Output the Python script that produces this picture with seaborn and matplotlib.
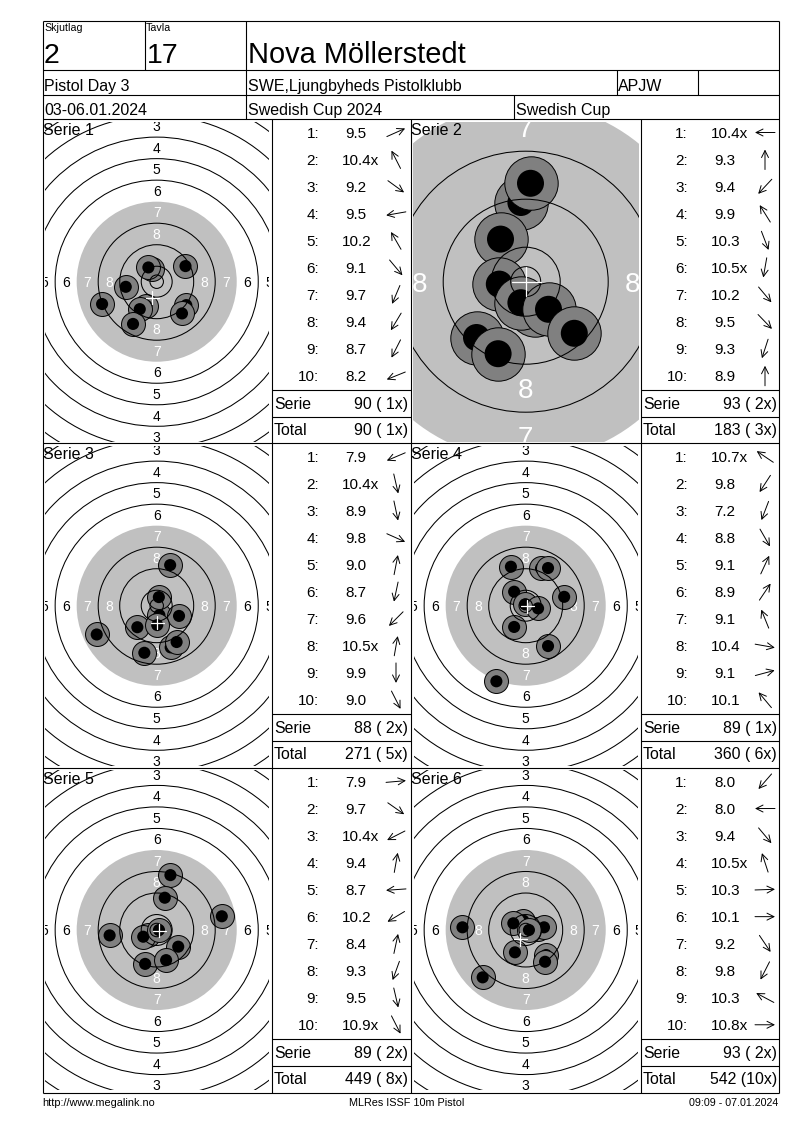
import math
import matplotlib
matplotlib.use('Agg')
from matplotlib import pyplot as plt
from matplotlib.patches import Circle
import seaborn as sns

# shot positions in mm from target centre, listed in drawing order
s1_x = [-1.7, -3.1, 10.7, -11.5, -20.3, -3.8, -6.3, -8.8, 11.0, 9.4]
s1_y = [4.6, 5.3, 5.8, -1.9, -8.3, -9.0, -10.2, -15.7, -8.7, -11.8]
s2_x = [-0.8, 0.8, -4.2, -4.4, 1.6, -0.8, 3.8, -8.2, -4.6, 8.1]
s2_y = [13.2, 16.4, 7.1, -0.4, -4.7, -3.5, -4.6, -9.3, -12.0, -8.6]
s3_x = [1.0, 0.8, 8.3, -7.2, 0.2, 5.2, 7.4, -4.6, -22.3, 5.0]
s3_y = [-3.5, 3.2, -3.8, -8.0, -7.2, -15.5, -13.5, -17.5, -10.7, 15.1]
s4_x = [-5.5, 5.7, 8.3, -4.3, 14.3, -0.2, 4.6, -4.3, 8.3, -10.9]
s4_y = [14.5, 13.9, 14.0, 5.2, 3.3, 0.5, -1.0, -7.9, -15.0, -28.1]
s5_x = [5.1, 3.0, 24.2, -17.5, -3.4, -5.0, 0.85, 8.0, -4.3, 3.5]
s5_y = [20.4, 12.0, 5.1, -2.0, -1.8, -2.5, 0.0, -6.2, -12.6, -11.2]
s6_x = [4.6, -0.9, -4.6, 6.8, 1.2, -4.0, 7.6, 7.2, -23.5, -16.0]
s6_y = [0.4, 3.5, 2.5, 1.0, 0.0, -8.3, -9.3, -11.8, 1.0, -17.6]

# white cross, mm from centre
cross_x = [-1.7, 0.1, 0.2, 0.6, 1.0, -2.1]
cross_y = [-6.0, 0.0, -6.3, -0.2, -0.2, -3.5]

# shot scores
v1 = ['9.5', '10.4x', '9.2', '9.5', '10.2', '9.1', '9.7', '9.4', '8.7', '8.2']
v2 = ['10.4x', '9.3', '9.4', '9.9', '10.3', '10.5x', '10.2', '9.5', '9.3', '8.9']
v3 = ['7.9', '10.4x', '8.9', '9.8', '9.0', '8.7', '9.6', '10.5x', '9.9', '9.0']
v4 = ['10.7x', '9.8', '7.2', '8.8', '9.1', '8.9', '9.1', '10.4', '9.1', '10.1']
v5 = ['7.9', '9.7', '10.4x', '9.4', '8.7', '10.2', '8.4', '9.3', '9.5', '10.9x']
v6 = ['8.0', '8.0', '9.4', '10.5x', '10.3', '10.1', '9.2', '9.8', '10.3', '10.8x']

# direction arrows, degrees counter clockwise from east
d1 = [24, 117, -36, 190, 120, -50, 247, 239, 243, 202]
d2 = [180, 90, 227, 122, -69, -100, -50, -46, -108, 90]
d3 = [203, -77, -78, -24, 79, -102, 225, 80, -90, -63]
d4 = [146, 237, 249, -60, 65, 56, 112, -10, 15, 130]
d5 = [5, -35, 207, 80, 184, 211, 78, 250, -77, -63]
d6 = [229, 180, -50, 108, 2, 0, -56, 243, 152, 0]

serie_sum = ['90 ( 1x)', '93 ( 2x)', '88 ( 2x)', '89 ( 1x)', '89 ( 2x)', '93 ( 2x)']
total_sum = ['90 ( 1x)', '183 ( 3x)', '271 ( 5x)', '360 ( 6x)', '449 ( 8x)', '542 (10x)']

ring_radius = [2.5, 5.75, 13.75, 21.75, 37.75, 45.75, 53.75, 61.75, 69.75, 77.75]
ring_label = [8, 7, 6, 5, 4, 3]
ring_label_r = [17.75, 25.75, 33.75, 41.75, 49.75, 57.75]
black_radius = 29.75

GREY = '#C0C0C0'
SHOT = '#808080'

sns.set_theme(style='white')
plt.rcParams['font.family'] = ['Liberation Sans', 'DejaVu Sans']

W, H = 800, 1130
fig = plt.figure(figsize=(W / 100, H / 100), dpi=100, facecolor='white')

# sheet layer, pixel coordinates, drawn above the targets
sheet = fig.add_axes([0, 0, 1, 1], zorder=5)
sheet.set_xlim(0, W)
sheet.set_ylim(H, 0)
sheet.axis('off')
sheet.patch.set_alpha(0)


def text(x, y, s, size, ha='left', **kw):
    # y is the middle of the digits, so go down to the baseline
    sheet.text(x, y + 0.36 * size * 100 / 72, s, fontsize=size, ha=ha, va='baseline',
               color='black', **kw)


def hline(y, x0, x1):
    sheet.plot([x0, x1], [y, y], color='black', lw=0.8, solid_capstyle='butt')


def vline(x, y0, y1):
    sheet.plot([x, x], [y0, y1], color='black', lw=0.8, solid_capstyle='butt')


def target(cx, cy, scale, xs, ys, cross, label_size):
    hw = 113 if scale > 3 else 112
    hh = 160
    ax = fig.add_axes([(cx - hw) / W, 1 - (cy + hh) / H, 2 * hw / W, 2 * hh / H], zorder=1)
    ax.add_patch(Circle((0, 0), black_radius, fc=GREY, ec='none', zorder=1))
    px = label_size * 100 / 72
    off = 0.36 * px / scale
    for val, r in zip(ring_label, ring_label_r):
        col = 'white' if val >= 7 else 'black'
        spots = []
        # numbers outside the clip window would not show anyway
        if r * scale < hh + 5:
            spots += [(0, r), (0, -r)]
        if r * scale < hw + 5:
            spots += [(-r, 0), (r, 0)]
        for tx, ty in spots:
            ax.text(tx, ty - off, str(val), fontsize=label_size, color=col, ha='center',
                    va='baseline', clip_on=True, zorder=2)
    for i, (x, y) in enumerate(zip(xs, ys)):
        size_grey = (2 * 4.45 * scale * 0.72) ** 2
        size_black = (2 * 2.25 * scale * 0.72) ** 2
        sns.scatterplot(x=[x], y=[y], s=size_grey, color=SHOT, edgecolor='black', linewidth=0.7,
                        ax=ax, zorder=3 + i * 0.01, legend=False)
        sns.scatterplot(x=[x], y=[y], s=size_black, color='black', edgecolor='none',
                        ax=ax, zorder=3.005 + i * 0.01, legend=False)
    for r in ring_radius:
        ax.add_patch(Circle((0, 0), r, fc='none', ec='black', lw=0.75, zorder=5))
    ax.plot([cross[0] - 2.4, cross[0] + 2.4], [cross[1], cross[1]], color='white', lw=0.9, zorder=6)
    ax.plot([cross[0], cross[0]], [cross[1] - 2.4, cross[1] + 2.4], color='white', lw=0.9, zorder=6)
    ax.set_xlim(-hw / scale, hw / scale)
    ax.set_ylim(-hh / scale, hh / scale)
    ax.axis('off')


def shot_table(col, first_y, scores, dirs, serie, total):
    for k, (v, d) in enumerate(zip(scores, dirs)):
        y = first_y + 27.03 * k
        text(col + 47, y, f'{k + 1}:', 11, ha='right')
        text(col + (70 if v.startswith('10') else 73.5), y, v, 11)
        a = math.radians(d)
        dx, dy = 10 * math.cos(a), -10 * math.sin(a)
        sheet.annotate('', xy=(col + 124 + dx, y + dy), xytext=(col + 124 - dx, y - dy),
                       arrowprops=dict(arrowstyle='->,head_length=0.5,head_width=0.25',
                                       lw=0.7, color='black', shrinkA=0, shrinkB=0, mutation_scale=10))
    y0 = first_y + 270.5
    text(col + 2, y0, 'Serie', 11.4)
    text(col + 136, y0, serie, 11.4, ha='right')
    text(col + 2, y0 + 26.5, 'Total', 11.4)
    text(col + 136, y0 + 26.5, total, 11.4, ha='right')
    hline(first_y + 257.5, col, col + 139 if col < 400 else col + 138)
    hline(first_y + 284.5, col, col + 139 if col < 400 else col + 138)


# targets
centres_y = [281.7, 605.7, 930]
target(156.7, centres_y[0], 2.69, s1_x, s1_y, (cross_x[0], cross_y[0]), 10)
target(525.7, centres_y[0], 6.0, s2_x, s2_y, (cross_x[1], cross_y[1]), 20)
target(156.7, centres_y[1], 2.69, s3_x, s3_y, (cross_x[2], cross_y[2]), 10)
target(525.7, centres_y[1], 2.69, s4_x, s4_y, (cross_x[3], cross_y[3]), 10)
target(156.7, centres_y[2], 2.69, s5_x, s5_y, (cross_x[4], cross_y[4]), 10)
target(525.7, centres_y[2], 2.69, s6_x, s6_y, (cross_x[5], cross_y[5]), 10)

# score columns
first_rows = [132.5, 456.7, 781.5]
shot_table(272, first_rows[0], v1, d1, serie_sum[0], total_sum[0])
shot_table(641, first_rows[0], v2, d2, serie_sum[1], total_sum[1])
shot_table(272, first_rows[1], v3, d3, serie_sum[2], total_sum[2])
shot_table(641, first_rows[1], v4, d4, serie_sum[3], total_sum[3])
shot_table(272, first_rows[2], v5, d5, serie_sum[4], total_sum[4])
shot_table(641, first_rows[2], v6, d6, serie_sum[5], total_sum[5])

# frame
for y in [21, 70, 95, 119, 443, 768, 1092.5]:
    hline(y, 42.5, 779)
for x in [42.5, 779]:
    vline(x, 21, 1092.5)
for x in [272, 411, 641]:
    vline(x, 119, 1092.5)
vline(144.5, 21, 70)
vline(246, 21, 119)
vline(616.5, 70, 95)
vline(698, 70, 95)
vline(513.5, 95, 119)

# header
text(44, 27, 'Skjutlag', 7.7)
text(146, 27, 'Tavla', 7.7)
text(43.5, 53, '2', 20.5)
text(147, 53, '17', 20.5)
text(248.5, 53, 'Nova Möllerstedt', 20.9)
text(44.5, 85, 'Pistol Day 3', 11.5)
text(248, 85, 'SWE,Ljungbyheds Pistolklubb', 11.5)
text(617.5, 85, 'APJW', 11.5)
text(44, 109, '03-06.01.2024', 11.5)
text(248, 109, 'Swedish Cup 2024', 11.5)
text(515.5, 109, 'Swedish Cup', 11.5)

# serie names sit on top of the rings
for i, (x, y) in enumerate([(43, 129), (411, 129), (43, 453), (411, 453), (43, 778), (411, 778)]):
    text(x, y, f'Serie {i + 1}', 11.5)

# footer
text(42, 1102, 'http://www.megalink.no', 7.8)
text(407, 1102, 'MLRes ISSF 10m Pistol', 7.8, ha='center')
text(778, 1102, '09:09 - 07.01.2024', 7.7, ha='right')

fig.savefig('out.png', dpi=100)
